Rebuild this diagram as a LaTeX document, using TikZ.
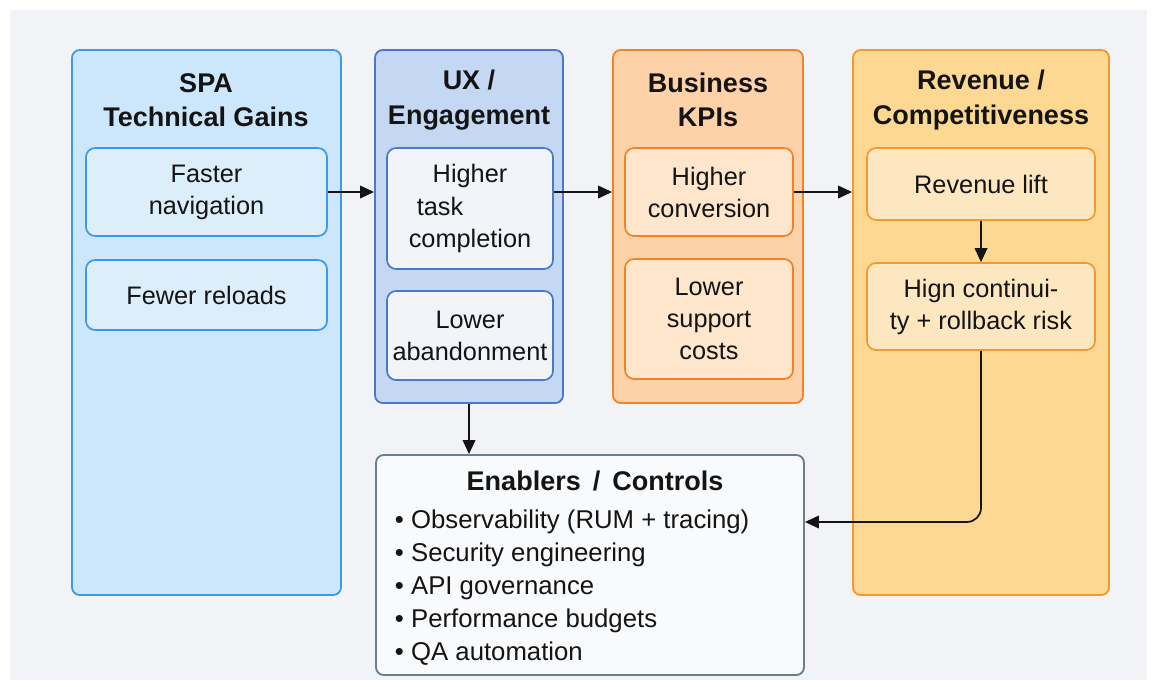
\documentclass[tikz,border=0pt]{standalone}
\usepackage{fontspec}
\setmainfont{Liberation Sans}
\usetikzlibrary{fit,arrows.meta}

\definecolor{bg}{HTML}{F2F3F7}
\definecolor{spafill}{HTML}{CCE7FB}
\definecolor{spain}{HTML}{DDEEFB}
\definecolor{spaline}{HTML}{3D9AE6}
\definecolor{uxfill}{HTML}{C4D8F3}
\definecolor{uxin}{HTML}{F1F4F9}
\definecolor{uxline}{HTML}{4B79C9}
\definecolor{kpifill}{HTML}{FDD2A8}
\definecolor{kpiin}{HTML}{FDE6CB}
\definecolor{kpiline}{HTML}{F08424}
\definecolor{revfill}{HTML}{FDD892}
\definecolor{revin}{HTML}{FDE7C0}
\definecolor{revline}{HTML}{F29A2C}
\definecolor{enfill}{HTML}{F9FAFC}
\definecolor{enline}{HTML}{6A7F8E}
\definecolor{ink}{HTML}{141414}

\tikzset{
  col/.style={draw, line width=1.3pt, rounded corners=5.5pt, inner sep=0pt},
  inbox/.style={draw, line width=1.2pt, rounded corners=6.5pt, inner sep=0pt,
    align=center, text=ink, font=\fontsize{18}{22.8}\selectfont},
  ttl/.style={align=center, text=ink, font=\fontsize{19.2}{24.5}\selectfont\bfseries},
  arr/.style={-{Triangle[length=10pt,width=9pt]}, line width=1.2pt, draw=ink},
}

\begin{document}
\begin{tikzpicture}[x=0.025cm, y=-0.025cm]
    \useasboundingbox (0,0) rectangle (1155,686);

    % sfondo
    \fill[white] (0,0) rectangle (1155,686);
    \fill[bg] (10,10) rectangle (1147,680);

    % colonne
    \node[col, draw=spaline, fill=spafill, fit={(72,50) (341,595)}] (spa) {};
    \node[col, draw=uxline, fill=uxfill, fit={(375,50) (563,403)}] (ux) {};
    \node[col, draw=kpiline, fill=kpifill, fit={(613,50) (803,403)}] (kpi) {};
    \node[col, draw=revline, fill=revfill, fit={(853,50) (1109,595)}] (rev) {};

    % titoli
    \node[ttl] (spat) at (206,100) {SPA\\Technical Gains};
    \node[ttl] (uxt) at (469,100) {UX /\\Engagement};
    \node[ttl] (kpit) at (708,100) {Business\\KPIs};
    \node[ttl] (revt) at (981,100) {Revenue /\\Competitiveness};

    % riquadri interni
    \node[inbox, draw=spaline, fill=spain, minimum width=6.025cm, minimum height=2.2cm] (nav) at (206.5,192) {Faster\\navigation};
    \node[inbox, draw=spaline, fill=spain, minimum width=6.025cm, minimum height=1.75cm] (reload) at (206.5,295) {Fewer reloads};
    \node[inbox, draw=uxline, fill=uxin, minimum width=4.15cm, minimum height=3.025cm] (task) at (470,208.5) {Higher\\\hbox to 4.2em{task\hfil}\\completion};
    \node[inbox, draw=uxline, fill=uxin, minimum width=4.15cm, minimum height=2.225cm] (aband) at (470,335.5) {Lower\\abandonment};
    \node[inbox, draw=kpiline, fill=kpiin, minimum width=4.2cm, minimum height=2.2cm] (conv) at (709,192) {Higher\\conversion};
    \node[inbox, draw=kpiline, fill=kpiin, minimum width=4.2cm, minimum height=3cm] (supp) at (709,319) {Lower\\support\\costs};
    \node[inbox, draw=revline, fill=revin, minimum width=5.7cm, minimum height=1.8cm] (lift) at (981,184) {Revenue lift};
    \node[inbox, draw=revline, fill=revin, minimum width=5.7cm, minimum height=2.175cm] (risk) at (981,306.5) {Hign continui-\\ty + rollback risk};

    % abilitatori
    \node[col, draw=enline, fill=enfill, fit={(376,455) (804,675)}] (enab) {};
    \node[ttl] (enabt) at (595,481) {Enablers\, /\, Controls};
    \node[anchor=west, align=left, text=ink, font=\fontsize{18.3}{23.5}\selectfont] (items) at (390,588)
        {\textbullet\ Observability (RUM + tracing)\\
         \textbullet\ Security engineering\\
         \textbullet\ API governance\\
         \textbullet\ Performance budgets\\
         \textbullet\ QA automation};

    % frecce
    \draw[arr] (nav.east) -- (nav.east -| ux.west);
    \draw[arr] (task.east |- nav.east) -- (kpi.west |- nav.east);
    \draw[arr] (conv.east) -- (conv.east -| rev.west);
    \draw[arr] (lift.south) -- (risk.north);
    \draw[arr] (ux.south) -- (ux.south |- enab.north);
    \draw[arr, rounded corners=10pt] (risk.south) |- ([yshift=1.075cm]enab.east);
\end{tikzpicture}
\end{document}
